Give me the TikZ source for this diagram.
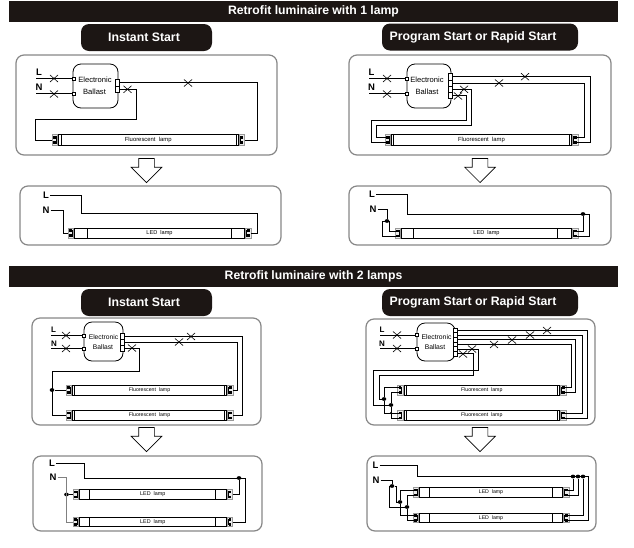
\documentclass[tikz,border=0pt]{standalone}
\usepackage{fontspec}
\setmainfont{Liberation Sans}
\usetikzlibrary{shapes.misc, shapes.arrows, shapes.geometric}

\definecolor{bannerblack}{RGB}{28,22,20}
\definecolor{panelgray}{RGB}{135,135,135}

\tikzset{
    banner/.style={rectangle, fill=bannerblack, text=white, inner sep=0, minimum height=21, font=\fontsize{12.2}{14}\selectfont\bfseries},
    startbox/.style={rectangle, rounded corners=8, fill=bannerblack, text=white, inner sep=0, minimum height=27, font=\fontsize{12.3}{14}\selectfont\bfseries},
    panel/.style={rectangle, rounded corners=8, draw=panelgray, line width=1.2, fill=white, inner sep=0},
    ballast/.style={rectangle, rounded corners=8, draw=black, line width=.8, fill=white, inner sep=0},
    inpin/.style={rectangle, draw=black, line width=.7, fill=white, inner sep=0, minimum size=3},
    outpin/.style={rectangle, draw=black, line width=.7, fill=white, inner sep=0, minimum width=4},
    lamppin/.style={rectangle, fill=black, inner sep=0, minimum width=2.6, minimum height=2.2},
    lampcap/.style={rectangle, draw=gray!80, line width=.8, fill=gray!15, inner sep=0, minimum width=5.5},
    tube/.style={rectangle, draw=black, line width=.9, fill=white, inner sep=0},
    wire/.style={draw=black, line width=.85},
    xmark/.style={cross out, draw=black, line width=.6, inner sep=0, minimum width=7.5, minimum height=6.5},
    jdot/.style={ellipse, fill=black, inner sep=0, minimum width=4.6, minimum height=3.8},
    wirelabel/.style={inner sep=1, font=\fontsize{9.5}{10}\selectfont\bfseries},
    ballasttext/.style={inner sep=0, font=\fontsize{7}{8}\selectfont},
    downarrow/.style={single arrow, shape border rotate=270, draw=black, line width=.7, fill=white, inner sep=7.5, minimum height=24, single arrow head extend=7.5, anchor=tip}
}

\begin{document}
\begin{tikzpicture}[x=1pt, y=-1pt]
    \useasboundingbox (0,0) rectangle (634,547);

    \node (bannerOne)[banner, minimum width=609] at (313.5,11.5) {Retrofit luminaire with 1 lamp};
    \node (bannerTwo)[banner, minimum width=609] at (313.5,276.5) {Retrofit luminaire with 2 lamps};
    \node (startA)[startbox, minimum width=131] at (146.5,37.5) {\hspace*{-5pt}Instant Start};
    \node (startB)[startbox, minimum width=196] at (480,37) {\hspace*{-14pt}Program Start or Rapid Start};
    \node (startE)[startbox, minimum width=131] at (146.5,302.5) {\hspace*{-5pt}Instant Start};
    \node (startF)[startbox, minimum width=196] at (480,302.5) {\hspace*{-14pt}Program Start or Rapid Start};

    \node (panelA)[panel, minimum width=261, minimum height=100] at (146.5,105) {};
    \node (panelB)[panel, minimum width=262, minimum height=100] at (480,105) {};
    \node (panelC)[panel, minimum width=261, minimum height=59] at (150.5,215.5) {};
    \node (panelD)[panel, minimum width=262, minimum height=59] at (480,215.5) {};
    \node (panelE)[panel, minimum width=229, minimum height=107] at (146.5,371.5) {};
    \node (panelF)[panel, minimum width=229, minimum height=106] at (480.5,372) {};
    \node (panelG)[panel, minimum width=229, minimum height=75] at (147.5,493.5) {};
    \node (panelH)[panel, minimum width=229, minimum height=75] at (481.5,493.5) {};

    \node (arrowA)[downarrow] at (146.5,183) {};
    \node (arrowB)[downarrow] at (480,183) {};
    \node (arrowE)[downarrow] at (146.5,452) {};
    \node (arrowF)[downarrow] at (480,452) {};

    % ballasts
    \node (ballastA)[ballast, minimum width=45, minimum height=44] at (95.5,86) {};
    \node (ballastB)[ballast, minimum width=44, minimum height=44] at (429,86) {};
    \node (ballastE)[ballast, minimum width=39, minimum height=39] at (103.5,341.5) {};
    \node (ballastF)[ballast, minimum width=38, minimum height=38] at (436,342) {};
    \foreach \nm/\xa/\ya/\xb/\yb/\fs in {A/95/80/94.5/92/7.6, B/427/80/427/92/7.6, E/103.5/337/103/347/6.7, F/436.5/337/435/347/6.8} {
        \node (elec\nm)[ballasttext, font=\fontsize{\fs}{8}\selectfont] at (\xa,\ya) {Electronic};
        \node (ball\nm)[ballasttext, font=\fontsize{\fs}{8}\selectfont] at (\xb,\yb) {Ballast};
    }

    % lamps: name/left end/right end/middle/height/inner lines/text size/text
    \foreach \nm/\xa/\xb/\y/\h/\ia/\ib/\fs/\txt in {
        A/52/244.5/140/11/61/236/5.9/Fluorescent\ \ lamp,
        B/385/578/140/11/393.5/569.5/5.9/Fluorescent\ \ lamp,
        C/68/251/233/10/87.5/231.5/5.6/LED\ \ lamp,
        D/395/578/233.5/10/413/557/5.6/LED\ \ lamp,
        Ea/66/233/390/10/74.5/224.5/5.2/Fluorescent\ \ lamp,
        Eb/66/233/415.5/10/74.5/224.5/5.2/Fluorescent\ \ lamp,
        Fa/397.5/566/390/10/406/557.5/5.2/Fluorescent\ \ lamp,
        Fb/397.5/566/415.5/10/406/557.5/5.2/Fluorescent\ \ lamp,
        Ga/73/232.5/494.5/9.5/89.5/215.5/5.4/LED\ \ lamp,
        Gb/73/232.5/522/9.5/89.5/215.5/5.4/LED\ \ lamp,
        Ha/413/569/492.5/9.5/429/552/5.2/LED\ \ lamp,
        Hb/413/569/518/9.5/429/552/5.2/LED\ \ lamp} {
        \node (lamp\nm-t)[tube, minimum width={\xb-\xa-13}, minimum height=\h] at ({(\xa+\xb)/2},\y) {};
        \draw[line width=.7] (\ia,{\y-\h/2}) -- (\ia,{\y+\h/2});
        \draw[line width=.7] (\ib,{\y-\h/2}) -- (\ib,{\y+\h/2});
        \node (lamp\nm-txt)[inner sep=0, font=\fontsize{\fs}{7}\selectfont] at (lamp\nm-t) {\txt};
        \node (lamp\nm-cl)[lampcap, minimum height=\h] at ({\xa+2.75},\y) {};
        \node (lamp\nm-cr)[lampcap, minimum height=\h] at ({\xb-2.75},\y) {};
        \node (lamp\nm-bl)[rectangle, fill=black, inner sep=0, minimum width=1, minimum height={\h-3}] at ({\xa+4.3},\y) {};
        \node (lamp\nm-br)[rectangle, fill=black, inner sep=0, minimum width=1, minimum height={\h-3}] at ({\xb-4.3},\y) {};
        \node (lamp\nm-l1)[lamppin] at ({\xa+2.6},{\y-2.5}) {};
        \node (lamp\nm-l2)[lamppin] at ({\xa+2.6},{\y+2.5}) {};
        \node (lamp\nm-r1)[lamppin] at ({\xb-2.6},{\y-2.5}) {};
        \node (lamp\nm-r2)[lamppin] at ({\xb-2.6},{\y+2.5}) {};
    }

    % labels and free ends
    \node (AL)[wirelabel] at (39,72.5) {L};
    \node (AN)[wirelabel] at (39,87.5) {N};
    \node (BL)[wirelabel] at (371.5,72.5) {L};
    \node (BN)[wirelabel] at (371.5,87.5) {N};
    \node (CL)[wirelabel] at (46,195) {L};
    \node (CN)[wirelabel] at (46,210.5) {N};
    \node (DL)[wirelabel] at (372,194.5) {L};
    \node (DN)[wirelabel] at (373,209.5) {N};
    \node (EL)[wirelabel, font=\fontsize{8}{10}\selectfont\bfseries] at (53.5,330) {L};
    \node (EN)[wirelabel, font=\fontsize{8}{10}\selectfont\bfseries] at (54,344) {N};
    \node (FL)[wirelabel, font=\fontsize{8}{10}\selectfont\bfseries] at (382,330) {L};
    \node (FN)[wirelabel, font=\fontsize{8}{10}\selectfont\bfseries] at (382,344) {N};
    \node (GL)[wirelabel] at (52,463.5) {L};
    \node (GN)[wirelabel] at (53,477) {N};
    \node (HL)[wirelabel] at (375.5,465.5) {L};
    \node (HN)[wirelabel] at (376,480) {N};
    \coordinate (Aa) at (36,78.5);
    \coordinate (Ab) at (36,93.5);
    \coordinate (Ba) at (369,78.5);
    \coordinate (Bb) at (369,93.5);
    \coordinate (Ea) at (51,335.5);
    \coordinate (Eb) at (51,348.5);
    \coordinate (Fa) at (380,335);
    \coordinate (Fb) at (380,348.5);

    % ballast pins
    \node (Ai1)[inpin] at (73.5,78.5) {};
    \node (Ai2)[inpin] at (73.5,93.5) {};
    \node (Bi1)[inpin] at (406.5,78.5) {};
    \node (Bi2)[inpin] at (406.5,93.5) {};
    \node (Ei1)[inpin] at (84,335.5) {};
    \node (Ei2)[inpin] at (84,348.5) {};
    \node (Fi1)[inpin] at (417,335) {};
    \node (Fi2)[inpin] at (417,348.5) {};
    \foreach \nm/\y in {1/82.7, 2/89.3}
        \node (Ao\nm)[outpin, minimum height=6.6] at (117,\y) {};
    \foreach \nm/\y in {1/76.7, 2/83, 3/89.3, 4/95.5}
        \node (Bo\nm)[outpin, minimum height=6.3] at (450.5,\y) {};
    \foreach \nm/\y in {1/336, 2/342, 3/348}
        \node (Eo\nm)[outpin, minimum height=6] at (122.5,\y) {};
    \foreach \nm/\y in {1/330.3, 2/335, 3/339.7, 4/344.3, 5/349, 6/353.7}
        \node (Fo\nm)[outpin, minimum height=4.7] at (455,\y) {};

    % joints
    \node (Dd1)[jdot] at (387,221) {};
    \node (Dd2)[jdot] at (583,214) {};
    \node (Ed1)[jdot] at (52,390) {};
    \node (Fd1)[jdot] at (384,399) {};
    \node (Fd2)[jdot] at (391,405) {};
    \node (Fd3)[jdot, minimum width=2.4, minimum height=2.4] at (391,413) {};
    \node (Gd1)[jdot] at (239,478) {};
    \node (Gd2)[jdot] at (66.5,494.5) {};
    \node (Hd1)[jdot] at (573,476.5) {};
    \node (Hd2)[jdot] at (578,476.5) {};
    \node (Hd3)[jdot] at (583,476.5) {};
    \node (Hd4)[jdot] at (392,486) {};
    \node (Hd5)[jdot] at (400,502) {};
    \node (Hd6)[jdot] at (407,507) {};

    % wires, first lamp panels
    \draw[wire] (Aa) -- (Ai1);
    \draw[wire] (Ab) -- (Ai2);
    \draw[wire] (Ao1) -- (257.5,82.7) |- (lampA-cr);
    \draw[wire] (Ao2) -- (136.5,89.3) -- (136.5,119.5) -- (35.5,119.5) |- (lampA-cl);

    \draw[wire] (Ba) -- (Bi1);
    \draw[wire] (Bb) -- (Bi2);
    \draw[wire] (Bo1) -- (590,76.7) |- (lampB-r2);
    \draw[wire] (Bo2) -- (584,83) |- (lampB-r1);
    \draw[wire] (Bo3) -- (471,89.3) -- (471,125) -- (376,125) |- (lampB-l1);
    \draw[wire] (Bo4) -- (466,95.5) -- (466,120) -- (371,120) |- (lampB-l2);

    \draw[wire] (CL) -- (81.5,195) -- (81.5,213) -- (257.5,213) |- (lampC-cr);
    \draw[wire] (CN) -- (63,210.5) |- (lampC-cl);

    \draw[wire] (DL) -- (407,194.5) -- (407,214) -- (589,214) |- (lampD-r2);
    \draw[wire] (Dd2) |- (lampD-r1);
    \draw[wire] (DN) -- (387,209.5) -- (Dd1);
    \draw[wire] (Dd1) -- (382,221) |- (lampD-l2);
    \draw[wire] (Dd1) -- (389.5,221) |- (lampD-l1);

    % wires, two lamp panels
    \draw[wire] (Ea) -- (Ei1);
    \draw[wire] (Eb) -- (Ei2);
    \draw[wire] (Eo1) -- (242.5,336) |- (lampEb-cr);
    \draw[wire] (Eo2) -- (237,342) |- (lampEa-cr);
    \draw[wire] (Eo3) -- (139,348) -- (139,371) -- (52,371) |- (lampEb-cl);
    \draw[wire] (Ed1) -- (lampEa-cl);

    \draw[wire] (Fa) -- (Fi1);
    \draw[wire] (Fb) -- (Fi2);
    \draw[wire] (Fo1) -- (587,330.3) |- (lampFb-r2);
    \draw[wire] (Fo2) -- (582,335) |- (lampFb-r1);
    \draw[wire] (Fo3) -- (575,339.7) |- (lampFa-r2);
    \draw[wire] (Fo4) -- (571,344.3) |- (lampFa-r1);
    \draw[wire] (Fo5) -- (478,349) -- (478,370) -- (373,370) |- (Fd2);
    \draw[wire] (Fo6) -- (473,353.7) -- (473,375) -- (379,375) |- (Fd1);
    \draw[wire] (lampFa-l1) -| (Fd1);
    \draw[wire] (Fd1) |- (lampFb-l1);
    \draw[wire] (lampFa-l2) -| (Fd2);
    \draw[wire] (Fd2) |- (lampFb-l2);

    \draw[wire] (GL) -- (84.5,463.5) -- (84.5,478) -- (245.5,478) |- (lampGb-cr);
    \draw[wire] (Gd1) |- (lampGa-cr);
    \draw[wire, draw=gray] (GN) -- (66.5,477) |- (lampGb-cl);
    \draw[wire] (Gd2) -- (lampGa-cl);

    \draw[wire] (HL) -- (417,465.5) -- (417,476.5) -- (588,476.5) |- (lampHb-r2);
    \draw[wire] (Hd1) |- (lampHa-r1);
    \draw[wire] (Hd2) |- (lampHa-r2);
    \draw[wire] (Hd3) |- (lampHb-r1);
    \draw[wire] (HN) -- (392,480) -- (Hd4);
    \draw[wire] (Hd4) -- (389,486) |- (Hd6);
    \draw[wire] (Hd4) -- (396,486) |- (Hd5);
    \draw[wire] (lampHa-l1) -| (Hd5);
    \draw[wire] (Hd5) |- (lampHb-l1);
    \draw[wire] (lampHa-l2) -| (Hd6);
    \draw[wire] (Hd6) |- (lampHb-l2);

    % cuts in the wires
    \foreach \nm/\x/\y in {xa/54/78.5, xb/54/94, xc/127.5/89.3, xd/188/83,
        xe/387/78.5, xf/387/94, xg/458/96, xh/464/89.3, xi/499/83, xj/525/76.7,
        xk/66/335.5, xl/66/348.5, xm/132/348, xn/179/342, xo/191/336.5,
        xp/397/335, xq/397/348.5, xr/463/354, xs/472/349, xt/494/344.5, xu/512/340, xv/530/335, xw/547/330.5}
        \node (\nm)[xmark] at (\x,\y) {};
\end{tikzpicture}
\end{document}
